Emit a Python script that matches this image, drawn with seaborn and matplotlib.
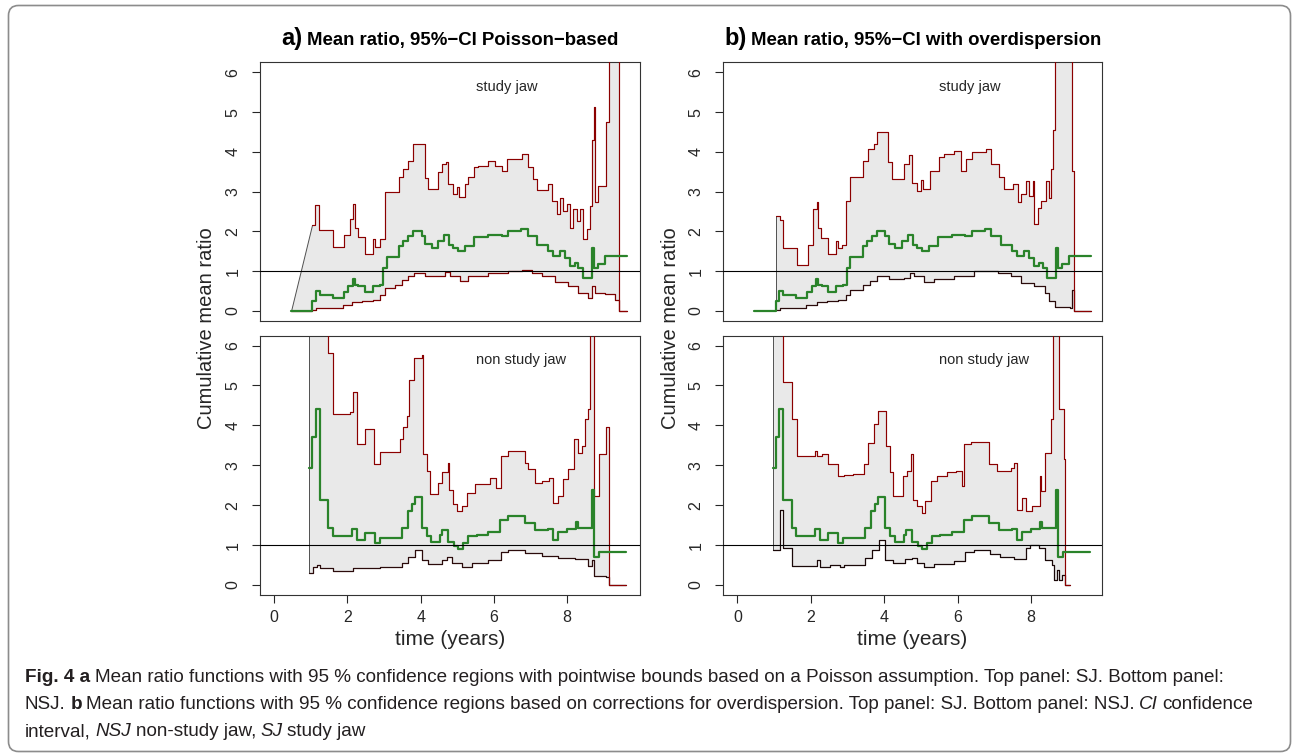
import numpy as np
import matplotlib
matplotlib.use("Agg")
import matplotlib.pyplot as plt
from matplotlib.patches import FancyBboxPatch
from matplotlib.transforms import IdentityTransform
from matplotlib import font_manager
import seaborn as sns

# --- mean ratio (green), identical in panels a and b ---
sj_mean_t = [0.46, 1.04, 1.13, 1.25, 1.61, 1.91, 2.02, 2.14, 2.20, 2.30, 2.48, 2.70, 2.89, 2.98, 3.07, 3.41,
             3.52, 3.66, 3.80, 4.03, 4.13, 4.30, 4.48, 4.64, 4.77, 4.89, 5.03, 5.21, 5.46, 5.85, 6.21, 6.38,
             6.74, 6.92, 7.17, 7.49, 7.62, 7.81, 7.94, 8.08, 8.21, 8.31, 8.44, 8.69, 8.74, 8.85, 9.03, 9.63]
sj_mean = [0, 0.24, 0.49, 0.41, 0.32, 0.47, 0.62, 0.81, 0.66, 0.62, 0.47, 0.62, 0.66, 1.08, 1.35, 1.63,
           1.76, 1.88, 2.01, 1.88, 1.69, 1.59, 1.76, 1.91, 1.67, 1.59, 1.50, 1.63, 1.86, 1.92, 1.88, 2.01,
           2.05, 1.88, 1.65, 1.50, 1.38, 1.50, 1.33, 1.12, 1.21, 1.08, 0.83, 1.59, 1.08, 1.18, 1.38, 1.38]

nsj_mean_t = [0.96, 1.04, 1.13, 1.25, 1.48, 1.61, 2.11, 2.25, 2.48, 2.75, 2.89, 3.48, 3.64, 3.75, 3.84, 4.03,
              4.16, 4.28, 4.53, 4.59, 4.75, 4.92, 5.03, 5.16, 5.30, 5.53, 5.85, 6.17, 6.39, 6.85, 7.12, 7.49,
              7.62, 7.76, 7.99, 8.23, 8.29, 8.69, 8.74, 8.87, 9.60]
nsj_mean = [2.94, 3.70, 4.41, 2.14, 1.43, 1.22, 1.41, 1.13, 1.30, 1.05, 1.18, 1.43, 1.85, 2.02, 2.20, 1.43,
            1.22, 1.07, 1.26, 1.39, 1.09, 0.97, 0.90, 1.05, 1.22, 1.26, 1.34, 1.64, 1.72, 1.55, 1.39, 1.40,
            1.13, 1.34, 1.40, 1.57, 1.43, 2.39, 0.71, 0.84, 0.84]

# --- a) Poisson-based bounds ---
sj_upper_pois_t = [1.04, 1.11, 1.22, 1.61, 1.90, 2.07, 2.14, 2.20, 2.30, 2.48, 2.70, 2.75, 2.89, 3.02, 3.41,
                   3.52, 3.66, 3.80, 4.12, 4.19, 4.48, 4.59, 4.68, 4.75, 4.89, 4.98, 5.05, 5.21, 5.30, 5.46,
                   5.57, 5.85, 6.03, 6.21, 6.35, 6.76, 6.94, 7.08, 7.19, 7.49, 7.58, 7.71, 7.81, 7.90, 7.99,
                   8.08, 8.17, 8.26, 8.35, 8.44, 8.53, 8.62, 8.69, 8.74, 8.76, 8.85, 9.05, 9.13, 9.43, 9.63]
sj_upper_pois = [2.16, 2.67, 2.03, 1.60, 1.92, 2.30, 2.70, 2.09, 1.86, 1.42, 1.80, 1.60, 1.80, 2.98, 3.36,
                 3.57, 3.78, 4.19, 3.34, 3.06, 3.49, 3.70, 3.74, 3.19, 2.94, 3.11, 2.87, 3.19, 3.38, 3.61,
                 3.65, 3.78, 3.65, 3.53, 3.82, 3.95, 3.61, 3.32, 3.04, 3.19, 2.77, 2.43, 2.85, 2.51, 2.68,
                 2.09, 2.56, 2.26, 2.56, 1.80, 2.05, 2.64, 4.29, 5.13, 2.73, 3.15, 4.75, 7.5, 0, 0]
sj_lower_pois_t = [0.46, 1.04, 1.13, 1.89, 2.11, 2.39, 2.70, 2.89, 3.02, 3.30, 3.48, 3.66, 3.83, 4.12, 4.48,
                   4.66, 4.80, 5.07, 5.30, 5.85, 6.39, 6.76, 7.03, 7.30, 7.67, 8.03, 8.31, 8.58, 8.69, 8.76,
                   9.03, 9.31, 9.43, 9.63]
sj_lower_pois = [0, 0.03, 0.08, 0.15, 0.22, 0.25, 0.28, 0.41, 0.57, 0.66, 0.78, 0.87, 0.95, 0.89, 0.87,
                 0.98, 0.87, 0.76, 0.87, 0.95, 1.01, 1.04, 0.95, 0.87, 0.74, 0.62, 0.45, 0.32, 0.62, 0.45,
                 0.42, 0.28, 0, 0]

nsj_upper_pois_t = [0.96, 1.48, 1.61, 2.07, 2.14, 2.25, 2.48, 2.73, 2.89, 3.43, 3.52, 3.62, 3.68, 3.83, 4.03,
                    4.07, 4.16, 4.25, 4.48, 4.57, 4.74, 4.77, 4.89, 4.98, 5.12, 5.26, 5.48, 5.89, 6.05, 6.18,
                    6.39, 6.85, 6.92, 7.12, 7.30, 7.50, 7.62, 7.76, 7.90, 8.03, 8.20, 8.29, 8.40, 8.49, 8.58,
                    8.62, 8.74, 8.87, 9.05, 9.14, 9.60]
nsj_upper_pois = [7.5, 5.82, 4.29, 4.33, 4.83, 3.53, 3.91, 3.03, 3.34, 3.66, 3.95, 4.24, 5.13, 5.69, 5.76,
                  3.28, 2.86, 2.27, 2.56, 2.82, 3.07, 2.39, 2.02, 1.85, 1.97, 2.31, 2.52, 2.69, 2.44, 3.24,
                  3.36, 3.07, 2.90, 2.56, 2.61, 2.69, 2.06, 2.23, 2.65, 2.90, 3.66, 3.32, 3.49, 4.16, 4.41,
                  7.5, 2.23, 3.28, 3.95, 0, 0]
nsj_lower_pois_t = [0.96, 1.07, 1.16, 1.25, 1.61, 2.16, 2.89, 3.48, 3.66, 3.84, 4.03, 4.21, 4.57, 4.71, 4.85,
                    5.12, 5.39, 5.85, 6.18, 6.39, 6.85, 7.30, 7.76, 8.21, 8.58, 8.69, 8.74, 9.06, 9.14, 9.60]
nsj_lower_pois = [0.31, 0.45, 0.50, 0.42, 0.34, 0.42, 0.45, 0.55, 0.71, 0.87, 0.63, 0.53, 0.63, 0.71, 0.55,
                  0.46, 0.55, 0.63, 0.84, 0.88, 0.80, 0.73, 0.67, 0.65, 0.48, 0.63, 0.23, 0.19, 0, 0]

# --- b) bounds corrected for overdispersion ---
sj_upper_od_t = [1.04, 1.15, 1.24, 1.63, 1.93, 2.05, 2.16, 2.21, 2.29, 2.47, 2.70, 2.75, 2.84, 2.96, 3.07,
                 3.43, 3.57, 3.71, 3.80, 4.10, 4.21, 4.53, 4.67, 4.76, 4.89, 4.99, 5.06, 5.26, 5.49, 5.63,
                 5.90, 6.10, 6.22, 6.40, 6.77, 6.90, 7.13, 7.27, 7.50, 7.63, 7.73, 7.86, 7.95, 8.05, 8.09,
                 8.18, 8.27, 8.41, 8.50, 8.55, 8.59, 8.64, 9.10, 9.16, 9.64]
sj_upper_od = [2.39, 2.29, 1.59, 1.15, 1.65, 2.56, 2.74, 2.09, 1.84, 1.42, 1.76, 1.59, 1.67, 2.77, 3.38,
               3.78, 4.08, 4.20, 4.50, 3.74, 3.32, 3.70, 3.91, 3.23, 3.02, 3.29, 3.06, 3.53, 3.86, 3.95,
               4.03, 3.53, 3.82, 3.99, 4.08, 3.70, 3.36, 3.06, 3.19, 2.73, 2.94, 3.27, 2.89, 3.27, 2.18,
               2.60, 2.77, 3.27, 2.85, 3.57, 4.54, 7.5, 3.53, 0, 0]
sj_lower_od_t = [1.04, 1.15, 1.88, 2.16, 2.43, 2.75, 2.96, 3.07, 3.43, 3.62, 3.80, 4.12, 4.53, 4.69, 4.80,
                 5.08, 5.35, 5.90, 6.45, 6.81, 7.09, 7.45, 7.73, 8.09, 8.37, 8.50, 8.64, 9.05, 9.10, 9.16, 9.64]
sj_lower_od = [0.03, 0.08, 0.14, 0.22, 0.25, 0.28, 0.41, 0.53, 0.66, 0.76, 0.87, 0.81, 0.84, 0.95, 0.87,
               0.74, 0.81, 0.89, 1.00, 1.01, 0.95, 0.87, 0.70, 0.62, 0.45, 0.24, 0.11, 0.07, 0.53, 0, 0]

nsj_upper_od_t = [0.96, 1.25, 1.48, 1.62, 2.12, 2.18, 2.30, 2.48, 2.73, 2.91, 3.16, 3.45, 3.57, 3.71, 3.82,
                  4.05, 4.15, 4.25, 4.51, 4.62, 4.73, 4.78, 4.89, 5.03, 5.12, 5.27, 5.44, 5.71, 5.96, 6.12,
                  6.18, 6.35, 6.85, 7.07, 7.44, 7.53, 7.62, 7.75, 7.87, 8.03, 8.24, 8.27, 8.39, 8.53, 8.60,
                  8.75, 8.89, 8.91, 9.07]
nsj_upper_od = [7.5, 5.08, 4.16, 3.24, 3.36, 3.24, 3.28, 3.03, 2.73, 2.75, 2.77, 3.03, 3.57, 4.03, 4.37,
                3.49, 2.82, 2.23, 2.73, 2.86, 3.28, 2.14, 1.97, 1.81, 2.10, 2.61, 2.73, 2.82, 2.86, 2.48,
                3.53, 3.59, 3.03, 2.86, 2.94, 3.07, 1.89, 2.18, 1.85, 1.97, 2.73, 2.35, 3.32, 4.16, 7.5,
                4.41, 3.15, 0, 0]
nsj_lower_od_t = [0.96, 1.15, 1.24, 1.48, 2.16, 2.25, 2.53, 2.80, 2.91, 3.48, 3.66, 3.85, 4.03, 4.25, 4.57,
                  4.75, 4.89, 5.07, 5.35, 5.89, 6.21, 6.44, 6.87, 7.16, 7.53, 7.85, 7.98, 8.21, 8.39, 8.57,
                  8.62, 8.71, 8.75, 8.85, 8.91, 9.07]
nsj_lower_od = [0.88, 1.89, 0.92, 0.48, 0.63, 0.45, 0.50, 0.45, 0.50, 0.67, 0.88, 1.12, 0.63, 0.55, 0.65,
                0.67, 0.55, 0.46, 0.53, 0.61, 0.82, 0.87, 0.78, 0.71, 0.65, 0.92, 1.01, 0.92, 0.63, 0.50,
                0.13, 0.38, 0.13, 0.25, 0, 0]

panel_titles = ["Mean ratio, 95%\u2212CI Poisson\u2212based", "Mean ratio, 95%\u2212CI with overdispersion"]
panel_letters = ["a)", "b)"]
jaw_labels = ["study jaw", "non study jaw"]
y_ticks = [0, 1, 2, 3, 4, 5, 6]
x_ticks = [0, 2, 4, 6, 8]

caption_lines = [
    [("Fig. 4 a", "bold"), ("Mean ratio functions with 95 % confidence regions with pointwise bounds based on "
                            "a Poisson assumption. Top panel: SJ. Bottom panel:", "normal")],
    [("NSJ.", "normal"), ("b", "bold"), ("Mean ratio functions with 95 % confidence regions based on corrections "
                                         "for overdispersion. Top panel: SJ. Bottom panel: NSJ.", "normal"),
     ("CI", "italic"), ("confidence", "normal")],
    [("interval,", "normal"), ("NSJ", "italic"), ("non-study jaw,", "normal"), ("SJ", "italic"),
     ("study jaw", "normal")],
]
caption_right_px = [1275, 1263, 440]   # where each caption line ends in the reference

sns.set_style("white")
plt.rcParams['font.family'] = ['Liberation Sans', 'DejaVu Sans']
available = {f.name for f in font_manager.fontManager.ttflist}
caption_family = 'Liberation Sans Narrow' if 'Liberation Sans Narrow' in available else 'Liberation Sans'

W, H = 1292, 754
fig = plt.figure(figsize=(W / 100, H / 100), dpi=100)
renderer = fig.canvas.get_renderer()


def px_rect(left, top, right, bottom):
    return [left / W, 1 - bottom / H, (right - left) / W, (bottom - top) / H]


def step_vertices(x, y):
    x = np.asarray(x, float)
    y = np.asarray(y, float)
    return np.repeat(x, 2)[1:], np.repeat(y, 2)[:-1]


def text_runs(runs, x_px, y_px, ha='left', family=None, color='black', draw=True):
    """Lay out text pieces with different styles on one baseline (pixel coords from top-left)."""
    arts = []
    for s, size, weight, style in runs:
        arts.append(fig.text(0, 0, s, fontsize=size, fontweight=weight, fontstyle=style, family=family,
                             color=color, va='baseline', ha='left'))
    widths = [a.get_window_extent(renderer).width for a in arts]
    size0 = runs[-1][1]
    p1 = fig.text(0, 0, 'n n', fontsize=size0, family=family)
    p2 = fig.text(0, 0, 'nn', fontsize=size0, family=family)
    gap = 0.85 * (p1.get_window_extent(renderer).width - p2.get_window_extent(renderer).width)
    p1.remove()
    p2.remove()
    total = sum(widths) + gap * (len(arts) - 1)
    if not draw:
        for a in arts:
            a.remove()
        return total
    x = x_px - total / 2 if ha == 'center' else x_px
    for a, w in zip(arts, widths):
        a.set_position((x / W, 1 - y_px / H))
        x += w + gap
    return total


def draw_panel(ax, upper_t, upper, lower_t, lower, mean_t, mean, lower_color, label, xlim, ylim, bottom):
    ux, uy = step_vertices(upper_t, upper)
    lx, ly = step_vertices(lower_t, lower)
    ax.fill(np.r_[ux, lx[::-1]], np.r_[uy, ly[::-1]], facecolor='#e9e9e9', edgecolor='#505050',
            lw=0.7, zorder=1)
    sns.lineplot(x=lower_t, y=lower, ax=ax, drawstyle='steps-post', color=lower_color, lw=0.9,
                 estimator=None, sort=False, legend=False, zorder=3)
    sns.lineplot(x=upper_t, y=upper, ax=ax, drawstyle='steps-post', color='#8b0000', lw=0.85,
                 estimator=None, sort=False, legend=False, zorder=3)
    sns.lineplot(x=mean_t, y=mean, ax=ax, drawstyle='steps-post', color='#2a832a', lw=1.6,
                 estimator=None, sort=False, legend=False, zorder=4)
    ax.axhline(1, color='black', lw=0.8, zorder=5)
    ax.text(5.5, 5.54, label, fontsize=10.5, ha='left', va='baseline')
    ax.set_xlim(*xlim)
    ax.set_ylim(*ylim)
    ax.set_xlabel('')
    ax.set_ylabel('')
    ax.set_yticks(y_ticks)
    ax.tick_params(axis='y', direction='out', length=6, width=0.8, pad=8, labelsize=11.5,
                   labelrotation=90, left=True)
    for lbl in ax.get_yticklabels():
        lbl.set_va('center')
    if bottom:
        ax.set_xticks(x_ticks)
        ax.tick_params(axis='x', direction='out', length=6, width=0.8, pad=5, labelsize=11.5, bottom=True)
    else:
        ax.set_xticks([])
    for sp in ax.spines.values():
        sp.set_visible(True)
        sp.set_color('#333333')
        sp.set_linewidth(0.8)


panels = [
    # rect (px), data, lower line colour, label, xlim, ylim, bottom row
    (px_rect(260, 62, 640, 320.5), (sj_upper_pois_t, sj_upper_pois, sj_lower_pois_t, sj_lower_pois,
                                    sj_mean_t, sj_mean), '#7a0000', jaw_labels[0], (-0.39, 9.99), (-0.24, 6.26), False),
    (px_rect(260, 336, 640, 595), (nsj_upper_pois_t, nsj_upper_pois, nsj_lower_pois_t, nsj_lower_pois,
                                   nsj_mean_t, nsj_mean), '#2b0b0b', jaw_labels[1], (-0.39, 9.99), (-0.25, 6.24), True),
    (px_rect(723, 62, 1102, 320.5), (sj_upper_od_t, sj_upper_od, sj_lower_od_t, sj_lower_od,
                                     sj_mean_t, sj_mean), '#2b0b0b', jaw_labels[0], (-0.39, 9.93), (-0.24, 6.26), False),
    (px_rect(723, 336, 1102, 595), (nsj_upper_od_t, nsj_upper_od, nsj_lower_od_t, nsj_lower_od,
                                    nsj_mean_t, nsj_mean), '#1a0808', jaw_labels[1], (-0.39, 9.93), (-0.25, 6.24), True),
]

for rect, data, lcol, label, xlim, ylim, bottom in panels:
    ax = fig.add_axes(rect)
    draw_panel(ax, *data, lcol, label, xlim, ylim, bottom)

# column titles, axis labels
for cx, ylab_x, letter, title in [(450, 207, panel_letters[0], panel_titles[0]),
                                  (912.5, 670, panel_letters[1], panel_titles[1])]:
    text_runs([(letter, 17, 'bold', 'normal'), (title, 13.4, 'bold', 'normal')], cx, 45, ha='center')
    fig.text(cx / W, 1 - 645 / H, "time (years)", fontsize=15, ha='center', va='baseline')
    fig.text(ylab_x / W, 1 - 328 / H, "Cumulative mean ratio", fontsize=14.5, rotation=90,
             ha='center', va='center')


# caption, sized so every line fits the width it has in the reference
def caption_runs(line, size):
    return [(s, size, 'bold' if k == 'bold' else 'normal', 'italic' if k == 'italic' else 'normal')
            for s, k in line]


cap_size = min(12 * (right - 25) / text_runs(caption_runs(line, 12), 25, 0, family=caption_family, draw=False)
               for line, right in zip(caption_lines[:2], caption_right_px[:2]))
for line, base in zip(caption_lines, [681.5, 709, 736.5]):
    text_runs(caption_runs(line, cap_size), 25, base, family=caption_family, color='#231f20')

frame = FancyBboxPatch((8.5, 2.5), 1282, 746, boxstyle='round,pad=0,rounding_size=10',
                       transform=IdentityTransform(), fill=False, edgecolor='#8c8c8c', lw=1.2)
fig.add_artist(frame)

fig.savefig("out.png", dpi=100)
